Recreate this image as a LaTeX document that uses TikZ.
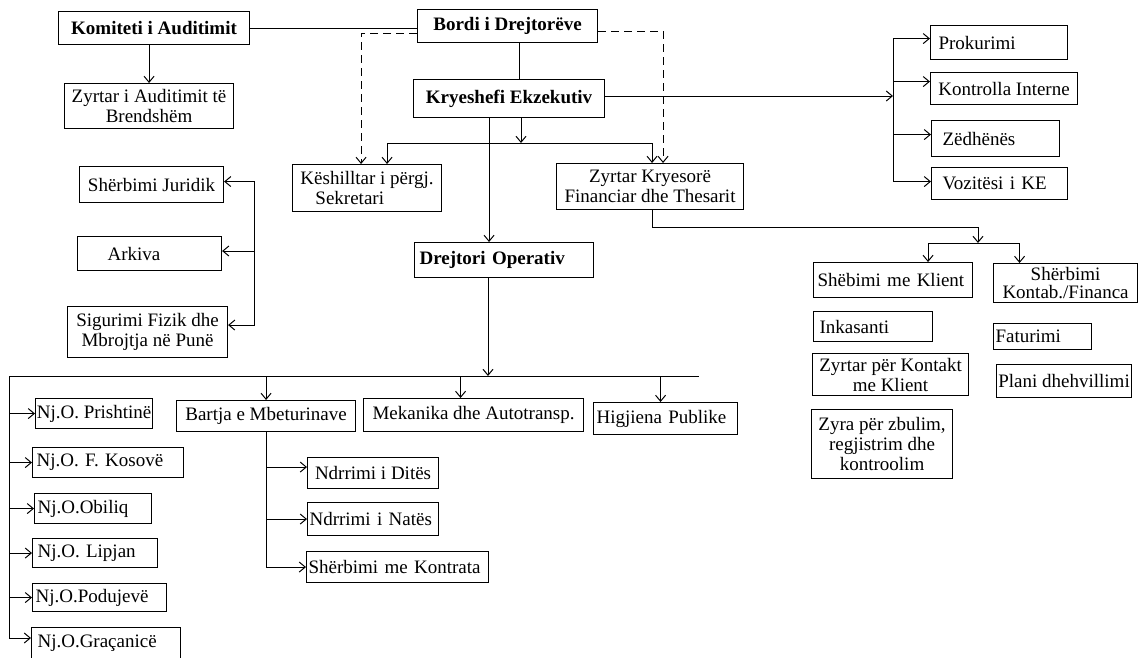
\documentclass[tikz,border=0pt]{standalone}
\usepackage{fontspec}
\setmainfont{Liberation Serif}
\usetikzlibrary{arrows.meta}

\begin{document}
\begin{tikzpicture}[x=1pt, y=-1pt, line width=1pt,
  every node/.style={font=\fontsize{19}{20}\selectfont},
  box/.style={draw, line width=1.1pt, anchor=north west, inner sep=0pt, align=center},
  arr/.style={-{Straight Barb[length=6pt,width=10pt]}},
  dashline/.style={dash pattern=on 8pt off 5pt}]
\clip (0,0) rectangle (1141,657);
\fill[white] (0,0) rectangle (1141,657);

% board, committee, executive
\node[box, minimum width=191, minimum height=33] (komiteti) at (58,11) {\textbf{Komiteti i Auditimit}};
\node[box, minimum width=169, minimum height=45] (auditor) at (64,83) {Zyrtar i Auditimit të\\Brendshëm};
\node[box, minimum width=180, minimum height=33] (bordi) at (417,9) {\textbf{Bordi i Drejtorëve}};
\node[box, minimum width=191, minimum height=38] (kryeshefi) at (413,79) {\textbf{Kryeshefi Ekzekutiv}};
\node[box, align=left, minimum width=149, minimum height=47] (keshilltar) at (292,164) {Këshilltar i përgj.\\\hspace*{15pt}Sekretari};
\node[box, minimum width=187, minimum height=46] (cfo) at (556,163) {Zyrtar Kryesorë\\Financiar dhe Thesarit};
\node[box, align=left, text width=169pt, inner xsep=5pt, minimum height=35] (drejtori) at (414,242) {\textbf{Drejtori Operativ}};

% staff of the executive
\node[box, align=left, text width=121pt, inner xsep=8pt, minimum height=34] (prokurimi) at (930,25) {Prokurimi};
\node[box, minimum width=147, minimum height=32] (kontrolla) at (930,72) {Kontrolla Interne};
\node[box, align=left, text width=106pt, inner xsep=11pt, minimum height=36] (zedhenes) at (931,120) {Zëdhënës};
\node[box, align=left, text width=114pt, inner xsep=11pt, minimum height=32] (vozitesi) at (931,167) {Vozitësi i KE};

% support services
\node[box, minimum width=144, minimum height=36] (juridik) at (79,166) {Shërbimi Juridik};
\node[box, align=left, text width=84pt, inner xsep=30pt, minimum height=34] (arkiva) at (77,236) {Arkiva};
\node[box, minimum width=160, minimum height=51] (sigurimi) at (67,306) {Sigurimi Fizik dhe\\Mbrojtja në Punë};

% finance
\node[box, align=left, text width=151pt, inner xsep=4pt, minimum height=35] (klient) at (813,262) {Shëbimi me Klient};
\node[box, minimum width=144, minimum height=39, font=\fontsize{19}{18}\selectfont] (kontab) at (993,263) {Shërbimi\\Kontab./Financa};
\node[box, align=left, text width=107pt, inner xsep=6pt, minimum height=30] (inkasanti) at (813,311) {Inkasanti};
\node[box, align=left, text width=94pt, inner xsep=2pt, minimum height=26] (faturimi) at (993,323) {Faturimi};
\node[box, minimum width=156, minimum height=42] (kontakt) at (812,353) {Zyrtar për Kontakt\\me Klient};
\node[box, minimum width=135, minimum height=33] (plani) at (996,364) {Plani dhehvillimi};
\node[box, minimum width=141, minimum height=69] (zyra) at (811,409) {Zyra për zbulim,\\regjistrim dhe\\kontroolim};

% operations
\node[box, minimum width=179, minimum height=31] (bartja) at (176,400) {Bartja e Mbeturinave};
\node[box, minimum width=220, minimum height=33] (mekanika) at (363,398) {Mekanika dhe Autotransp.};
\node[box, align=left, text width=138pt, inner xsep=3pt, minimum height=32] (higjiena) at (593,402) {Higjiena Publike};
\node[box, minimum width=117, minimum height=30] (prishtine) at (35,398) {Nj.O. Prishtinë};
\node[box, align=left, text width=143pt, inner xsep=4pt, minimum height=30] (kosove) at (32,447) {Nj.O. F. Kosovë};
\node[box, align=left, text width=111pt, inner xsep=3pt, minimum height=30] (obiliq) at (34,493) {Nj.O.Obiliq};
\node[box, align=left, text width=115pt, inner xsep=5pt, minimum height=29] (lipjan) at (32,538) {Nj.O. Lipjan};
\node[box, align=left, text width=128pt, inner xsep=3pt, minimum height=28] (podujeve) at (32,583) {Nj.O.Podujevë};
\node[box, align=left, text width=137pt, inner xsep=6pt, inner ysep=3pt, text height=17pt, text depth=22pt] (gracanice) at (31,627) {Nj.O.Graçanicë};
\node[box, minimum width=131, minimum height=31] (dites) at (307,457) {Ndrrimi i Ditës};
\node[box, align=left, text width=127pt, inner xsep=2pt, minimum height=33] (nates) at (307,502) {Ndrrimi i Natës};
\node[box, align=left, text width=178pt, inner xsep=2pt, minimum height=31] (kontrata) at (306,551) {Shërbimi me Kontrata};

% connectors at the top
\draw (komiteti.east) -- (komiteti.east -| bordi.west);
\draw[arr] (auditor.north |- komiteti.south) -- (auditor.north);
\draw[dashline, arr] ([yshift=-7pt]bordi.west) -| ([xshift=-6pt]keshilltar.north);
\draw[dashline, arr] ([yshift=-5pt]bordi.east) -| ([xshift=13pt]cfo.north);
\coordinate (bk) at ([xshift=12pt]bordi.south);
\draw (bk) -- (bk |- kryeshefi.north);
\coordinate (kd) at ([xshift=-20pt]kryeshefi.south);
\draw[arr] (kd) -- (kd |- drejtori.north);
\coordinate (kbranch) at (521,143);
\draw[arr] (kbranch |- kryeshefi.south) -- (kbranch);
\draw[arr] (kbranch) -| ([xshift=20pt]keshilltar.north);
\draw[arr] (kbranch) -| ([xshift=2pt]cfo.north);

% staff bracket
\coordinate (staffbus) at (893,96);
\draw[arr] (kryeshefi.east |- staffbus) -- (staffbus);
\draw[arr] (staffbus) |- ([yshift=4pt]prokurimi.west);
\draw[arr] (staffbus) |- ([yshift=7pt]kontrolla.west);
\draw[arr] (staffbus) |- ([yshift=4pt]zedhenes.west);
\draw[arr] (staffbus) |- ([yshift=2pt]vozitesi.west);

% support bracket
\coordinate (supbus) at (254,251);
\draw[arr] (supbus) |- ([yshift=3pt]juridik.east);
\draw[arr] (supbus) -- (supbus -| arkiva.east);
\draw[arr] (supbus) |- ([yshift=7pt]sigurimi.east);

% finance branch
\coordinate (finbus) at (978,243);
\draw[arr] ([xshift=2pt]cfo.south) -- ++(0,17) -| (finbus);
\draw[arr] (finbus) -| ([xshift=35pt]klient.north);
\draw[arr] (finbus) -| ([xshift=-46pt]kontab.north);

% operations bus
\coordinate (opbus) at (488,376);
\coordinate (busL) at (9,376);
\coordinate (busR) at (699,376);
\draw[arr] (opbus |- drejtori.south) -- (opbus);
\draw (busL) -- (busR);
\draw[arr] (bartja.north |- busL) -- (bartja.north);
\coordinate (mk) at ([xshift=-13pt]mekanika.north);
\draw[arr] (mk |- busL) -- (mk);
\coordinate (hg) at ([xshift=-5pt]higjiena.north);
\draw[arr] (hg |- busL) -- (hg);
\draw[arr] (busL) |- (prishtine.west);
\draw[arr] (busL) |- (kosove.west);
\draw[arr] (busL) |- (obiliq.west);
\draw[arr] (busL) |- (lipjan.west);
\draw[arr] (busL) |- (podujeve.west);
\draw[arr] (busL) |- ([yshift=-11pt]gracanice.north west);
\draw[arr] (bartja.south) |- ([yshift=6pt]dites.west);
\draw[arr] (bartja.south) |- (nates.west);
\draw[arr] (bartja.south) |- (kontrata.west);
\end{tikzpicture}
\end{document}
